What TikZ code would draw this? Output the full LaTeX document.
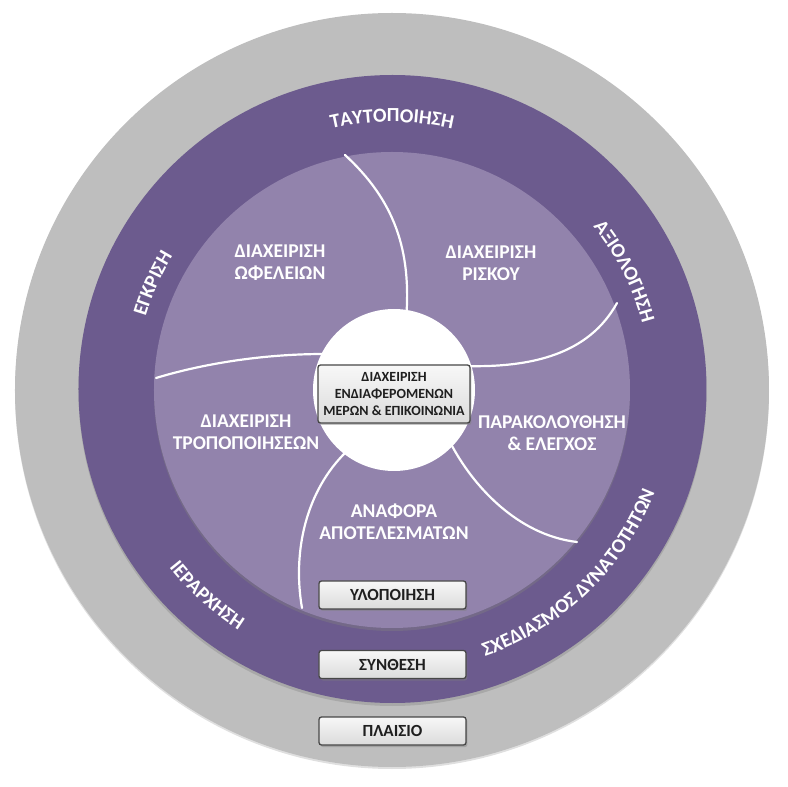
\documentclass[tikz,border=0pt]{standalone}
\usepackage{fontspec}
\setmainfont{Carlito}
\usetikzlibrary{decorations.text,shadows,calc}
\definecolor{ringgray}{RGB}{190,190,190}
\definecolor{ringpurple}{RGB}{108,91,142}
\definecolor{lightpurple}{RGB}{146,131,172}
\newcommand{\ringfont}{\fontsize{20}{22}\selectfont\bfseries\color{white}}
\tikzset{
  disc/.style={circle, inner sep=0pt, outer sep=0pt},
  spiral/.style={white, line width=2.2pt, line cap=round},
  petal/.style={text=white, align=center, font=\fontsize{19.5}{22}\selectfont\bfseries},
  tagbox/.style={rectangle, rounded corners=2.5pt, draw=black!72, line width=1.3pt,
    top color=white!97!black, bottom color=black!14, minimum width=147pt, minimum height=28pt,
    inner sep=1pt, text=black!88, font=\fontsize{17}{18}\selectfont\bfseries,
    drop shadow={shadow xshift=1.5pt, shadow yshift=-2pt, opacity=0.45}},
  ringtext/.style={decorate, decoration={text along path, text align=center, text={#1}}}
}
\begin{document}
\begin{tikzpicture}[x=1pt,y=1pt]
\useasboundingbox (-392,-397) rectangle (396,390);
% rings
\node[disc, minimum size=754pt, fill=ringgray,
  drop shadow={shadow xshift=0pt, shadow yshift=-2pt, opacity=0.25}] (outer) at (0,0) {};
\node[disc, minimum size=628pt, fill=ringpurple,
  drop shadow={shadow xshift=0pt, shadow yshift=-3pt, opacity=0.35}] (mid) at (0.5,1) {};
\node[disc, minimum size=476pt, fill=lightpurple,
  drop shadow={shadow xshift=0pt, shadow yshift=-3pt, opacity=0.4}] (inner) at (0,0) {};
% spiral dividers
\coordinate (s1) at (14,70);   \coordinate (e1) at (-47,235);
\coordinate (s2) at (72,24);   \coordinate (e2) at (225,87);
\coordinate (s3) at (58,-52);  \coordinate (e3) at (185,-152);
\coordinate (s4) at (-46,-62); \coordinate (e4) at (-90,-218);
\coordinate (s5) at (-68,36);  \coordinate (e5) at (-236,12);
\draw[spiral] (s1) .. controls (20,140) and (2,190) .. (e1);
\draw[spiral] (s2) .. controls (140,22) and (197,36) .. (e2);
\draw[spiral] (s3) .. controls (80,-95) and (125,-145) .. (e3);
\draw[spiral] (s4) .. controls (-85,-100) and (-100,-160) .. (e4);
\draw[spiral] (s5) .. controls (-130,36) and (-190,26) .. (e5);
% white centre
\node[disc, minimum size=162pt, fill=white] (hub) at (2,0) {};
% ring texts
\path[ringtext={|\ringfont|ΤΑΥΤΟΠΟΙΗΣΗ}] (120:268) arc[start angle=120, end angle=60, radius=268];
\path[ringtext={|\ringfont|ΑΞΙΟΛΟΓΗΣΗ}] (57:259) arc[start angle=57, end angle=-3, radius=259];
\path[ringtext={|\ringfont|ΕΓΚΡΙΣΗ}] (186:257) arc[start angle=186, end angle=126, radius=257];
\path[ringtext={|\ringfont|ΣΧΕΔΙΑΣΜΟΣ ΔΥΝΑΤΟΤΗΤΩΝ}] (-88:282) arc[start angle=-88, end angle=-4, radius=282];
\path[ringtext={|\ringfont|ΙΕΡΑΡΧΗΣΗ}] (198:285) arc[start angle=198, end angle=258, radius=285];
% petal texts
\node[petal] (benefits) at (-112,127) {ΔΙΑΧΕΙΡΙΣΗ\\ΩΦΕΛΕΙΩΝ};
\node[petal] (risk) at (99,127) {ΔΙΑΧΕΙΡΙΣΗ\\ΡΙΣΚΟΥ};
\node[petal] (changes) at (-146,-42) {ΔΙΑΧΕΙΡΙΣΗ\\ΤΡΟΠΟΠΟΙΗΣΕΩΝ};
\node[petal] (monitor) at (160,-43) {ΠΑΡΑΚΟΛΟΥΘΗΣΗ\\\& ΕΛΕΓΧΟΣ};
\node[petal] (report) at (2,-132) {ΑΝΑΦΟΡΑ\\ΑΠΟΤΕΛΕΣΜΑΤΩΝ};
% boxes
\node[tagbox, minimum width=152pt, minimum height=58pt, align=center,
  font=\fontsize{14}{17}\selectfont\bfseries] (stake) at (2,-4)
  {ΔΙΑΧΕΙΡΙΣΗ\\ΕΝΔΙΑΦΕΡΟΜΕΝΩΝ\\ΜΕΡΩΝ \& ΕΠΙΚΟΙΝΩΝΙΑ};
\node[tagbox] (impl) at (0.5,-205) {ΥΛΟΠΟΙΗΣΗ};
\node[tagbox] (synth) at (0.5,-274.5) {ΣΥΝΘΕΣΗ};
\node[tagbox] (frame) at (0.5,-341) {ΠΛΑΙΣΙΟ};
\end{tikzpicture}
\end{document}
